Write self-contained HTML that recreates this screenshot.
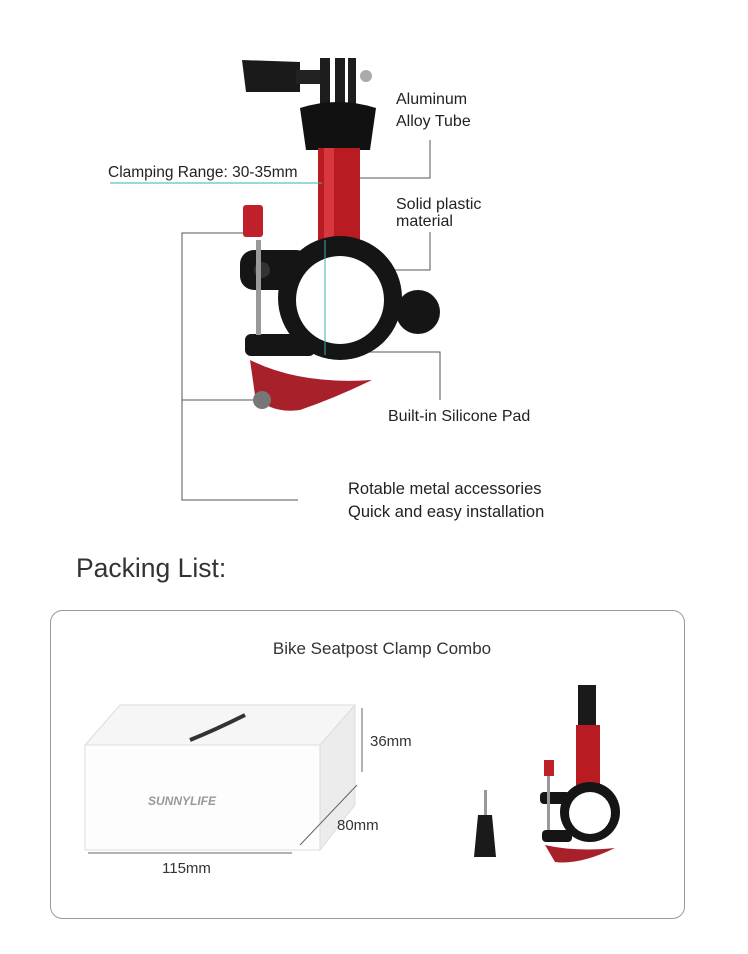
<!DOCTYPE html>
<html><head><meta charset="utf-8"><style>
html,body{margin:0;padding:0;background:#fff;}
svg{display:block;font-family:"Liberation Sans",sans-serif;}
</style></head><body>
<svg width="748" height="954" viewBox="0 0 748 954" xmlns="http://www.w3.org/2000/svg">
<rect width="748" height="954" fill="#fff"/>
<!-- leader lines -->
<g stroke="#555" stroke-width="1" fill="none">
<polyline points="343,178 430,178 430,140"/>
<polyline points="380,270 430,270 430,232"/>
<polyline points="365,352 440,352 440,400"/>
<polyline points="245,233 182,233 182,500 298,500"/>
<line x1="182" y1="400" x2="258" y2="400"/>
</g>
<!-- clamp product -->
<g>
<path d="M242,60 L300,62 L300,92 L246,92 Z" fill="#1a1a1a"/>
<rect x="296" y="70" width="26" height="14" fill="#222"/>
<rect x="320" y="58" width="10" height="48" fill="#1d1d1d"/>
<rect x="335" y="58" width="10" height="48" fill="#1d1d1d"/>
<rect x="348" y="58" width="8" height="48" fill="#1d1d1d"/>
<circle cx="366" cy="76" r="6" fill="#aaa"/>
<path d="M300,108 Q338,96 376,108 L370,150 L306,150 Z" fill="#111"/>
<rect x="318" y="148" width="42" height="92" fill="#b81c22"/>
<rect x="324" y="148" width="10" height="92" fill="#d8383d"/>
<rect x="240" y="250" width="70" height="40" rx="14" fill="#151515"/>
<rect x="245" y="334" width="70" height="22" rx="6" fill="#151515"/>
<circle cx="418" cy="312" r="22" fill="#151515"/>
<circle cx="340" cy="298" r="62" fill="#151515"/>
<circle cx="340" cy="300" r="44" fill="#fff"/>
<circle cx="262" cy="270" r="8" fill="#333"/>
<rect x="243" y="205" width="20" height="32" rx="3" fill="#c0202a"/>
<rect x="256" y="240" width="5" height="95" fill="#999"/>
<path d="M250,360 Q300,385 372,380 Q335,398 300,410 Q270,414 255,395 Z" fill="#a8202a"/>
<circle cx="262" cy="400" r="9" fill="#777"/>
</g>
<g stroke="#3bb3a6" stroke-width="1">
<line x1="110" y1="183" x2="322" y2="183"/>
<line x1="325" y1="240" x2="325" y2="355"/>
</g>
<!-- labels -->
<g font-size="16" fill="#222">
<text x="396" y="104">Aluminum</text>
<text x="396" y="126">Alloy Tube</text>
<text x="396" y="209">Solid plastic</text>
<text x="396" y="226">material</text>
<text x="388" y="421">Built-in Silicone Pad</text>
<text x="348" y="494" font-size="16.5">Rotable metal accessories</text>
<text x="348" y="517" font-size="16.5">Quick and easy installation</text>
<text x="108" y="177" font-size="15.5">Clamping Range: 30-35mm</text>
</g>
<text x="76" y="577" font-size="26.5" fill="#333">Packing List:</text>
<rect x="50.5" y="610.5" width="634" height="308" rx="12" fill="none" stroke="#999"/>
<text x="382" y="654" font-size="17" fill="#333" text-anchor="middle">Bike Seatpost Clamp Combo</text>
<!-- box -->
<polygon points="85,745 120,705 355,705 320,745" fill="#f6f6f6" stroke="#ddd"/>
<polygon points="85,745 320,745 320,850 85,850" fill="#fdfdfd" stroke="#ddd"/>
<polygon points="320,745 355,705 355,805 320,850" fill="#ececec" stroke="#ddd"/>
<text x="148" y="805" font-size="12" fill="#999" font-style="italic" font-weight="bold">SUNNYLIFE</text>
<path d="M190,740 Q215,730 245,715" stroke="#333" stroke-width="4" fill="none"/>
<g stroke="#666" stroke-width="1" fill="none">
<line x1="362" y1="708" x2="362" y2="772"/>
<line x1="300" y1="845" x2="357" y2="785"/>
<line x1="88" y1="853" x2="292" y2="853"/>
</g>
<g font-size="15" fill="#333">
<text x="370" y="746">36mm</text>
<text x="337" y="830">80mm</text>
<text x="162" y="873">115mm</text>
</g>
<!-- small items -->
<rect x="484" y="790" width="3" height="25" fill="#999"/>
<path d="M478,815 L492,815 L496,857 L474,857 Z" fill="#1a1a1a"/>
<rect x="578" y="685" width="18" height="40" fill="#1a1a1a"/>
<rect x="576" y="725" width="24" height="68" fill="#b81c22"/>
<circle cx="590" cy="812" r="30" fill="#151515"/>
<rect x="540" y="792" width="30" height="12" rx="4" fill="#151515"/>
<rect x="542" y="830" width="30" height="12" rx="4" fill="#151515"/>
<circle cx="590" cy="813" r="21" fill="#fff"/>
<rect x="544" y="760" width="10" height="16" fill="#c0202a"/>
<rect x="547" y="776" width="3" height="54" fill="#999"/>
<path d="M545,845 Q575,852 615,848 Q580,865 555,862 Z" fill="#a8202a"/>
</svg>
</body></html>
